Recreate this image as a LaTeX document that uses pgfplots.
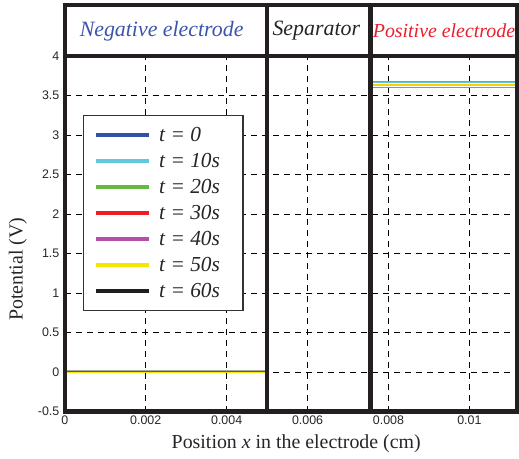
\documentclass[border=0pt]{standalone}
\usepackage{pgfplots}
\pgfplotsset{compat=1.18}
\usepackage{fontspec}
\setmainfont{Liberation Serif}
\setsansfont{Liberation Sans}

\definecolor{cblue}{RGB}{50,80,165}
\definecolor{ccyan}{RGB}{100,200,220}
\definecolor{cgreen}{RGB}{100,185,65}
\definecolor{cred}{RGB}{235,30,35}
\definecolor{cmag}{RGB}{180,80,170}
\definecolor{cyel}{RGB}{245,230,0}
\definecolor{cblk}{RGB}{30,30,30}
\definecolor{hblue}{RGB}{60,85,170}
\definecolor{hred}{RGB}{235,30,45}
\definecolor{frame}{RGB}{35,31,32}

\begin{document}
\begin{tikzpicture}
\begin{axis}[
  scale only axis, width=453bp, height=407.5bp,
  xmin=0, xmax=0.01117, ymin=-0.5, ymax=4.644,
  scaled x ticks=false, scaled y ticks=false,
  xtick={0,0.002,0.004,0.006,0.008,0.01},
  xticklabels={0,0.002,0.004,0.006,0.008,0.01},
  ytick={-0.5,0,0.5,1,1.5,2,2.5,3,3.5,4},
  yticklabels={-0.5,0,0.5,1,1.5,2,2.5,3,3.5,4},
  tick label style={font=\fontsize{12.5}{12.5}\sffamily, text=black!85},
  xtick pos=left, ytick pos=left,
  tick style={draw=none},
  xticklabel style={yshift=-1bp},
  yticklabel style={xshift=-2bp},
  grid=major,
  major grid style={black, line width=0.6bp, dash pattern=on 6bp off 5bp},
  axis line style={line width=4.5bp, frame},
  xlabel={Position \textit{x} in the electrode (cm)},
  ylabel={Potential (V)},
  label style={font=\fontsize{20}{20}\selectfont\rmfamily, text=black!85},
  xlabel style={at={(axis description cs:0.512,-0.08)}, anchor=center},
  ylabel style={at={(axis description cs:-0.104,0.35)}, anchor=center},
  legend style={at={(axis description cs:0.0397,0.730)}, anchor=north west,
    draw=black!80, line width=1.3bp, fill=white,
    font=\fontsize{21.5}{21.5}\selectfont\rmfamily\itshape,
    inner xsep=11bp, inner ysep=10bp, row sep=6.3bp, column sep=6bp,
    text=black!85,
    cells={anchor=west, fill=none, draw=none}},
  legend image code/.code={\draw[#1, line width=4bp] (0bp,0bp) -- (53bp,0bp);},
]
% legend entries
\addlegendimage{cblue}\addlegendentry{t = 0}
\addlegendimage{ccyan}\addlegendentry{t = 10s\hspace*{10bp}}
\addlegendimage{cgreen}\addlegendentry{t = 20s}
\addlegendimage{cred}\addlegendentry{t = 30s}
\addlegendimage{cmag}\addlegendentry{t = 40s}
\addlegendimage{cyel}\addlegendentry{t = 50s}
\addlegendimage{cblk}\addlegendentry{t = 60s}

% negative electrode (all at 0 V)
\addplot[forget plot, cblk, line width=1.5bp] coordinates {(0,0) (0.005,0)};
\addplot[forget plot, cmag, line width=1.5bp] coordinates {(0,0) (0.005,0)};
\addplot[forget plot, cblue, line width=1.5bp] coordinates {(0,0) (0.005,0)};
\addplot[forget plot, ccyan, line width=1.5bp] coordinates {(0,0) (0.005,0)};
\addplot[forget plot, cgreen, line width=1.5bp] coordinates {(0,0) (0.005,0)};
\addplot[forget plot, black!35, line width=1.5bp] coordinates {(0,0.012) (0.005,0.012)};
\addplot[forget plot, cred, line width=1.5bp] coordinates {(0,0) (0.005,0)};
\addplot[forget plot, cyel, line width=1.5bp] coordinates {(0,-0.004) (0.005,-0.004)};

% positive electrode
\addplot[forget plot, cblk, line width=1.5bp] coordinates {(0.00755,3.660) (0.01117,3.660)};
\addplot[forget plot, cmag, line width=1.5bp] coordinates {(0.00755,3.660) (0.01117,3.660)};
\addplot[forget plot, ccyan, line width=1.5bp] coordinates {(0.00755,3.667) (0.01117,3.667)};
\addplot[forget plot, cblue!60, line width=1.5bp] coordinates {(0.00755,3.675) (0.01117,3.675)};
\addplot[forget plot, cred, line width=1.5bp] coordinates {(0.00755,3.638) (0.01117,3.638)};
\addplot[forget plot, cyel!80!orange, line width=1.5bp] coordinates {(0.00755,3.630) (0.01117,3.630)};
\addplot[forget plot, cgreen, line width=1.5bp] coordinates {(0.00755,3.603) (0.01117,3.603)};

% header band
\fill[white] (axis cs:0,4) rectangle (axis cs:0.01117,4.644);
\draw[line width=4.5bp, frame] (rel axis cs:0,0) rectangle (rel axis cs:1,1);
\draw[line width=4.5bp, frame] (axis cs:0,4) -- (axis cs:0.01117,4);
\draw[line width=4.5bp, frame] (axis cs:0.005,-0.5) -- (axis cs:0.005,4.644);
\draw[line width=4.5bp, frame] (axis cs:0.00755,-0.5) -- (axis cs:0.00755,4.644);
\node[font=\fontsize{22}{22}\selectfont\rmfamily\itshape, text=hblue] at (axis cs:0.002392,4.317) {Negative electrode};
\node[font=\fontsize{22}{22}\selectfont\rmfamily\itshape, text=black!85] at (axis cs:0.006215,4.317) {Separator};
\node[font=\fontsize{20}{20}\selectfont\rmfamily\itshape, text=hred] at (axis cs:0.009371,4.317) {Positive electrode};
\end{axis}
\path ([shift={(-65bp,-47.5bp)}]current axis.south west) rectangle ([shift={(1bp,5bp)}]current axis.north east);
\end{tikzpicture}
\end{document}
